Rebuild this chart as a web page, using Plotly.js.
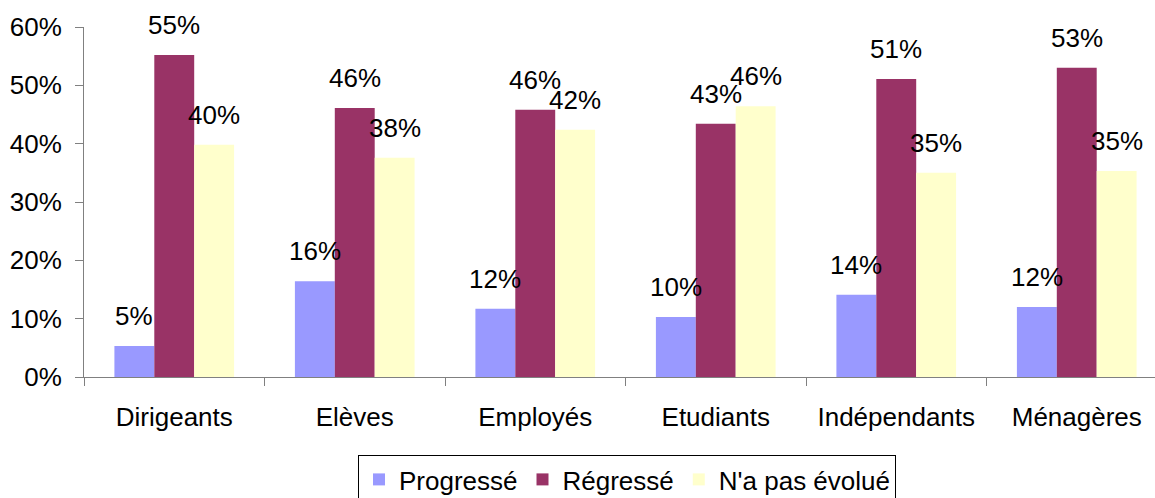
<!DOCTYPE html>
<html>
<head>
<meta charset="utf-8">
<script src="https://cdn.plot.ly/plotly-3.0.1.min.js"></script>
<style>
  html, body { margin: 0; padding: 0; background: #ffffff; }
  #chart { width: 1155px; height: 498px; }
</style>
</head>
<body>
<div id="chart"></div>
<script>
// ---- Data ----
const categories = ["Dirigeants", "Elèves", "Employés", "Etudiants", "Indépendants", "Ménagères"];
const seriesNames = ["Progressé", "Régressé", "N'a pas évolué"];
const progresse = [0.053, 0.164, 0.117, 0.103, 0.141, 0.120];
const regresse  = [0.552, 0.461, 0.458, 0.434, 0.511, 0.530];
const nonEvolue = [0.398, 0.376, 0.424, 0.464, 0.350, 0.353];
const yTickVals = [0, 0.1, 0.2, 0.3, 0.4, 0.5, 0.6];
const yTickText = ["0%", "10%", "20%", "30%", "40%", "50%", "60%"];

// ---- Styles ----
const colors = ["#9999FF", "#993366", "#FFFFCC"];
const FONT = "Arial, 'Liberation Sans', sans-serif";
const FS = 26;
const seriesValues = [progresse, regresse, nonEvolue];

const traces = seriesValues.map((vals, i) => ({
  type: "bar",
  name: seriesNames[i],
  x: categories,
  y: vals,
  marker: { color: colors[i], line: { width: 0 } },
  hoverinfo: "none"
}));

// data labels as annotations above each bar
const nSeries = seriesValues.length;
const catWidthPx = 180.5;
const bargap = 0.337;
const barW = catWidthPx * (1 - bargap) / nSeries;
const annotations = [];
seriesValues.forEach((vals, si) => {
  const off = (si - (nSeries - 1) / 2) * barW;
  vals.forEach((v, ci) => {
    annotations.push({
      x: categories[ci], y: v, xref: "x", yref: "y",
      text: Math.round(v * 100) + "%",
      showarrow: false, xanchor: "center", yanchor: "bottom",
      xshift: off, yshift: 13,
      font: { family: FONT, size: FS, color: "#000000" }
    });
  });
});

const plotW = 1155 - 84;
const layout = {
  width: 1155, height: 498,
  margin: { l: 84, r: 0, t: 27, b: 121, pad: 0, autoexpand: false },
  paper_bgcolor: "#ffffff", plot_bgcolor: "#ffffff",
  barmode: "group", bargap: bargap, bargroupgap: 0,
  font: { family: FONT, size: FS, color: "#000000" },
  showlegend: true,
  legend: {
    orientation: "h",
    x: (358 - 84) / plotW, xanchor: "left",
    y: (377 - 455) / 350, yanchor: "top",
    bordercolor: "#000000", borderwidth: 1,
    bgcolor: "#ffffff",
    font: { family: FONT, size: FS, color: "#000000" },
    traceorder: "normal"
  },
  xaxis: {
    type: "category",
    range: [-0.5, -0.5 + plotW / catWidthPx],
    showline: true, linecolor: "#808080", linewidth: 1,
    ticks: "outside", tickson: "boundaries", ticklen: 8, tickcolor: "#808080",
    showgrid: false, zeroline: false,
    tickfont: { family: FONT, size: FS, color: "#000000" },
    ticklabelstandoff: 17,
    fixedrange: true
  },
  yaxis: {
    range: [0, 0.6],
    tickvals: yTickVals, ticktext: yTickText,
    showline: true, linecolor: "#808080", linewidth: 1,
    ticks: "outside", ticklen: 8, tickcolor: "#808080",
    showgrid: false, zeroline: false,
    tickfont: { family: FONT, size: FS, color: "#000000" },
    ticklabelstandoff: 8,
    fixedrange: true
  },
  annotations: annotations
};

Plotly.newPlot("chart", traces, layout, { displayModeBar: false, staticPlot: true });
</script>
</body>
</html>
